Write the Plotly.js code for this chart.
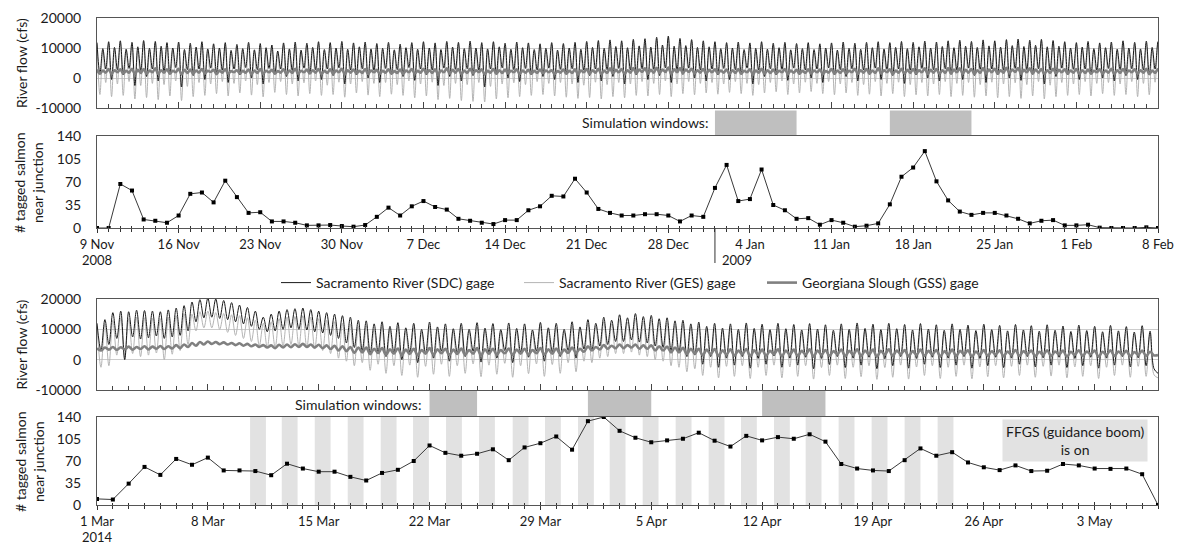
<!DOCTYPE html>
<html><head><meta charset="utf-8">
<script src="https://cdn.plot.ly/plotly-3.0.1.min.js"></script>
<style>html,body{margin:0;padding:0;background:#fff}#chart{width:1182px;height:546px}</style>
</head><body><div id="chart"></div>
<script>
// ================= DATA =================
// River flow, alternating tidal extremes every 6 h (values in hundreds of cfs)
const flowTopStart = '2008-11-09';
const sdcTop = [
118,15,98,30, 121,-5,102,28, 124,10,96,32, 119,-25,104,25, 125,5,99,30, 122,-10,106,22, 118,12,100,35, 120,-30,95,28,
116,8,103,30, 121,-5,97,33, 114,15,100,26, 118,-15,92,30, 112,10,98,35, 119,0,94,28, 115,-20,101,32, 110,12,90,30,
117,5,97,25, 120,-10,93,33, 116,15,102,28, 121,-5,95,30, 118,8,100,34, 122,-20,96,27, 117,10,104,31, 120,0,97,26,
115,-15,99,32, 119,12,94,28, 113,5,101,35, 118,-8,96,30, 121,10,100,27, 117,-25,95,33, 122,5,103,29, 119,-10,98,31,
123,8,100,26, 118,-30,97,30, 121,12,104,34, 116,0,96,28, 120,-12,101,32, 117,10,95,27, 114,5,99,33, 118,-5,93,29,
115,12,100,31, 119,-15,96,26, 122,8,102,30, 125,-10,99,28, 127,5,105,32, 124,-20,101,27, 129,10,107,31, 131,-5,103,29,
136,8,110,34, 140,-15,106,28, 132,12,108,33, 128,0,102,27, 124,-10,104,30, 121,10,98,32, 118,-5,100,28, 120,12,95,33,
117,-20,99,26, 121,5,96,31, 116,10,101,29, 119,-8,94,33, 115,12,98,27, 118,0,95,30, 114,-15,100,34, 117,10,93,28,
120,5,99,31, 116,-10,96,27, 119,12,101,33, 121,-5,97,29, 118,8,102,30, 122,-18,98,26, 119,10,104,32, 123,0,100,28,
120,-10,105,31, 124,12,101,27, 126,-5,106,33, 122,8,102,29, 127,-15,107,30, 124,10,103,26, 128,0,108,32, 130,-8,105,28,
126,12,109,31, 129,-20,104,27, 125,5,106,33, 121,10,100,29, 118,-5,103,30, 122,12,98,26, 117,0,101,32, 120,-10,96,28,
124,8,100,31, 119,-5,97,27, 123,10,102,30, 121,5,99,32];
const gesTop = [
112,-55,92,-15, 115,-62,96,-20, 118,-58,90,-12, 113,-70,98,-25, 119,-65,93,-18, 116,-72,100,-22, 112,-60,94,-10, 114,-75,89,-28,
110,-62,97,-15, 115,-58,91,-20, 108,-52,94,-12, 112,-60,86,-18, 106,-50,92,-10, 113,-57,88,-22, 109,-63,95,-15, 104,-48,84,-12,
111,-55,91,-20, 114,-60,87,-16, 110,-52,96,-10, 115,-58,89,-24, 112,-55,94,-14, 116,-64,90,-20, 111,-50,98,-12, 114,-57,91,-18,
109,-62,93,-15, 113,-54,88,-22, 107,-58,95,-10, 112,-66,90,-20, 115,-60,94,-14, 111,-72,89,-25, 116,-68,97,-18, 113,-75,92,-22,
117,-78,94,-15, 112,-80,91,-28, 115,-70,98,-20, 110,-66,90,-16, 114,-62,95,-22, 111,-58,89,-12, 108,-55,93,-18, 112,-60,87,-15,
109,-64,94,-20, 113,-68,90,-24, 116,-65,96,-14, 119,-70,93,-22, 121,-62,99,-15, 118,-66,95,-20, 123,-58,101,-12, 125,-60,97,-18,
130,-55,104,-10, 134,-62,100,-20, 126,-52,102,-12, 122,-56,96,-18, 118,-50,98,-15, 115,-54,92,-20, 112,-48,94,-12, 114,-52,89,-18,
111,-58,93,-22, 115,-50,90,-15, 110,-46,95,-10, 113,-55,88,-20, 109,-50,92,-14, 112,-45,89,-18, 108,-52,94,-12, 111,-56,87,-20,
114,-50,93,-15, 110,-58,90,-22, 113,-54,95,-12, 115,-60,91,-18, 112,-52,96,-14, 116,-62,92,-22, 113,-56,98,-15, 117,-60,94,-20,
114,-55,99,-12, 118,-62,95,-18, 120,-58,100,-15, 116,-64,96,-22, 121,-60,101,-14, 118,-66,97,-20, 122,-62,102,-16, 124,-68,99,-22,
120,-60,103,-12, 123,-70,98,-24, 119,-62,100,-15, 115,-58,94,-20, 112,-55,97,-12, 116,-60,92,-18, 111,-52,95,-15, 114,-58,90,-20,
118,-55,94,-12, 113,-62,91,-18, 117,-56,96,-14, 115,-60,93,-18];
const gssTop = [
28,14,25,18, 30,13,26,19, 29,15,24,18, 31,12,27,17, 30,14,25,19, 32,13,26,18, 29,15,24,19, 31,12,27,17,
28,14,25,18, 30,15,24,20, 27,13,25,18, 29,14,23,19, 26,15,24,18, 28,13,25,17, 30,14,24,19, 27,15,23,18,
29,13,25,17, 31,14,24,19, 28,15,26,18, 30,13,24,17, 29,14,25,19, 31,12,26,18, 28,15,24,17, 30,13,25,19,
27,14,24,18, 29,15,23,17, 28,13,25,19, 30,14,24,18, 31,15,26,17, 29,12,25,19, 32,14,27,18, 30,13,25,17,
31,15,26,19, 29,12,24,18, 30,14,26,17, 28,15,24,19, 29,13,25,18, 27,14,24,17, 28,15,25,19, 26,13,23,18,
28,14,24,17, 29,12,25,19, 30,14,26,18, 31,13,25,17, 32,15,27,19, 30,13,26,18, 33,15,28,20, 32,14,27,18,
34,16,28,20, 35,14,29,19, 33,16,28,20, 31,15,26,18, 30,14,27,19, 29,15,25,18, 28,13,26,17, 30,14,24,19,
29,12,25,18, 31,14,26,17, 28,15,24,19, 30,13,25,18, 27,14,24,17, 29,15,25,19, 28,13,23,18, 30,14,25,17,
29,15,24,19, 31,13,26,18, 30,14,25,17, 32,15,26,19, 29,13,25,18, 31,14,27,17, 30,15,26,19, 32,13,27,18,
30,14,26,17, 33,15,28,19, 32,14,27,18, 30,13,26,17, 33,15,28,19, 31,14,26,18, 34,16,28,20, 33,14,27,19,
32,15,28,18, 30,13,26,17, 31,15,27,19, 29,14,25,18, 30,13,26,17, 28,15,24,19, 29,14,25,18, 31,13,26,17,
30,15,25,19, 29,14,26,18, 31,13,25,17, 30,15,26,19];

const flowBotStart = '2014-03-01';
const sdcBot = [
120,30,132,50, 155,70,160,0, 158,75,163,68, 162,72,160,78, 158,70,164,75, 170,80,178,95, 190,125,198,138, 203,140,200,136,
195,132,188,125, 180,118,172,110, 160,100,140,92, 150,95,160,100, 165,105,168,100, 170,98,165,92, 160,88,155,80, 150,70,145,55,
140,40,130,30, 128,20,118,25, 125,10,110,22, 122,0,105,25, 120,-10,100,20, 124,5,108,28, 118,-5,102,22, 120,10,100,28,
122,-8,104,25, 119,5,99,30, 121,-10,103,24, 118,8,98,28, 123,-5,105,26, 120,10,100,30, 125,5,108,35, 132,30,120,45,
140,50,130,60, 148,60,138,65, 152,58,142,55, 146,45,135,40, 138,30,128,25, 130,10,118,15, 124,-15,110,10, 120,-25,104,5,
118,-18,100,10, 121,-28,103,4, 117,-15,99,12, 120,-25,102,5, 116,-18,98,8, 119,-30,101,4, 115,-16,97,10, 118,-26,100,5,
121,-18,103,8, 117,-30,99,3, 120,-20,102,10, 116,-28,98,4, 119,-15,101,8, 115,-26,97,5, 118,-18,100,10, 114,-28,96,4,
117,-20,99,8, 113,-26,95,5, 116,-15,98,10, 112,-24,94,6, 115,-18,97,8, 111,-26,93,4, 114,-20,96,8, 110,-28,92,5,
113,-18,95,10, 109,-24,91,6, 112,-20,94,-30, -45];
const gesBot = [
110,-25,118,-20, 130,15,138,5, 135,20,140,10, 138,15,136,22, 135,0,140,18, 145,30,152,50, 150,95,158,105, 160,105,155,100,
152,90,148,80, 145,70,138,60, 130,45,120,40, 125,40,135,45, 140,50,142,45, 145,40,140,35, 135,30,130,20, 125,5,120,-5,
118,-20,110,-10, 112,-35,102,-15, 110,-45,98,-20, 108,-52,95,-18, 106,-58,92,-22, 110,-48,98,-15, 104,-55,94,-20, 106,-45,92,-14,
108,-56,96,-18, 105,-48,91,-12, 107,-58,95,-20, 104,-46,90,-14, 109,-55,97,-16, 106,-45,92,-10, 110,-40,100,-5, 118,-10,110,5,
126,10,118,20, 132,20,125,25, 136,15,128,10, 130,0,122,-5, 122,-20,114,-25, 115,-40,106,-30, 110,-52,100,-25, 106,-60,96,-22,
104,-55,93,-20, 107,-62,96,-25, 103,-52,92,-18, 106,-60,95,-24, 102,-55,91,-20, 105,-64,94,-26, 101,-52,90,-18, 104,-62,93,-25,
107,-56,96,-20, 103,-65,92,-26, 106,-58,95,-18, 102,-64,91,-24, 105,-52,94,-20, 101,-62,90,-25, 104,-55,93,-18, 100,-63,89,-24,
103,-56,92,-20, 99,-60,88,-22, 102,-52,91,-18, 98,-58,87,-22, 101,-54,90,-18, 97,-60,86,-24, 100,-55,89,-20, 96,-62,85,-25,
99,-52,88,-18, 95,-58,84,-22, 98,-55,87,-50, -60];
const gssBot = [
38,30,40,33, 42,32,41,34, 43,33,42,35, 44,34,43,36, 45,35,44,37, 48,38,50,42, 55,46,58,50, 60,52,58,51,
57,50,55,48, 54,46,52,44, 50,42,48,40, 47,38,49,40, 50,41,51,42, 52,42,50,40, 49,38,47,35, 46,30,44,28,
42,22,40,24, 40,18,36,22, 38,16,34,20, 37,15,33,19, 36,14,32,20, 38,16,34,21, 36,15,33,19, 37,16,32,20,
38,14,34,19, 36,16,32,21, 37,15,33,20, 36,17,32,21, 38,16,34,20, 37,18,33,22, 40,22,36,26, 44,30,42,34,
48,36,46,38, 50,38,48,40, 50,36,47,36, 47,30,44,30, 43,24,40,24, 39,18,36,20, 36,14,33,18, 35,12,31,17,
34,13,30,18, 35,11,31,16, 33,13,29,18, 34,11,30,16, 33,12,29,17, 34,10,30,16, 32,12,28,18, 33,11,29,16,
34,12,30,17, 33,10,29,16, 34,12,30,18, 32,11,28,16, 33,12,29,17, 32,10,28,16, 33,12,29,18, 31,10,27,16,
32,12,28,17, 31,11,27,16, 32,12,28,18, 30,11,26,16, 31,12,27,17, 30,10,26,16, 31,12,27,18, 30,10,26,16,
31,12,27,17, 29,11,25,16, 30,12,26,14, 15];

// Tagged salmon near junction, daily counts
const salmonTopStart = '2008-11-09';
const salmonTop = [
0,0,67,57,13,11,8,19,52,54,39,72,47,23,24,10,10,8,4,4,4.5,3,
2,4.5,17,31,19,33,41,32,28,14,11,8,6,12,12,27,33,49,48,75,54,29,23,19,19,21,21,19,10,19,17,
61,96,41,44,89,35,27,14,15,5,12,8,2,3.5,7,36,78,92,117,71,42,25,20,23,23,19,14,7,11,12,4,
4,5,0.5,0,0,0,1,0];
const salmonBotStart = '2014-03-01';
const salmonBot = [
9.7,8.7,34,60.6,47.9,73.3,64,75.4,55,55,54,47.4,65.7,58,53,53,44.8,39,51,56,70,94.7,83,78.4,81.5,88.6,71.3,91.6,98.3,109,88,
133.4,140,118,107,99.8,102.8,105.4,115,102.3,93,110,102.8,108,105.4,112.5,100.8,65.2,58,55,54,71.3,90,78.4,84,67.7,60,55.5,63,54,54.5,
65.2,63,58,57.5,58,49,0];

// Simulation windows
const simTopStart = ['2009-01-01','2009-01-16'];
const simTopEnd   = ['2009-01-08','2009-01-23'];
const simBotStart = ['2014-03-22','2014-04-01','2014-04-12'];
const simBotEnd   = ['2014-03-25','2014-04-05','2014-04-16'];

// FFGS (guidance boom) on periods
const ffgsStart = ['2014-03-10 16:00','2014-03-12 16:00','2014-03-14 18:00','2014-03-16 20:00','2014-03-18 22:00','2014-03-20 23:00',
'2014-03-23 01:00','2014-03-25 03:00','2014-03-27 06:00','2014-03-29 07:00','2014-03-31 09:00','2014-04-02 09:00','2014-04-04 11:00',
'2014-04-06 13:00','2014-04-08 15:00','2014-04-10 16:00','2014-04-12 18:00','2014-04-14 18:00','2014-04-16 20:00','2014-04-18 22:00',
'2014-04-21 00:00','2014-04-23 02:00'];
const ffgsEnd = ['2014-03-11 16:00','2014-03-13 16:00','2014-03-15 18:00','2014-03-17 20:00','2014-03-19 22:00','2014-03-21 23:00',
'2014-03-24 01:00','2014-03-26 03:00','2014-03-28 06:00','2014-03-30 07:00','2014-04-01 09:00','2014-04-03 09:00','2014-04-05 11:00',
'2014-04-07 13:00','2014-04-09 15:00','2014-04-11 16:00','2014-04-13 18:00','2014-04-15 18:00','2014-04-17 20:00','2014-04-19 22:00',
'2014-04-22 00:00','2014-04-24 02:00'];

// Axis ranges, tick labels and year labels
const rangeTop = ['2008-11-09','2009-02-08'];
const rangeBot = ['2014-03-01','2014-05-07'];
const topTickVals = ['2008-11-09','2008-11-16','2008-11-23','2008-11-30','2008-12-07','2008-12-14','2008-12-21','2008-12-28','2009-01-04','2009-01-11','2009-01-18','2009-01-25','2009-02-01','2009-02-08'];
const topTickText = ['9 Nov','16 Nov','23 Nov','30 Nov','7 Dec','14 Dec','21 Dec','28 Dec','4 Jan','11 Jan','18 Jan','25 Jan','1 Feb','8 Feb'];
const botTickVals = ['2014-03-01','2014-03-08','2014-03-15','2014-03-22','2014-03-29','2014-04-05','2014-04-12','2014-04-19','2014-04-26','2014-05-03'];
const botTickText = ['1 Mar','8 Mar','15 Mar','22 Mar','29 Mar','5 Apr','12 Apr','19 Apr','26 Apr','3 May'];
const yearLabelsTop = [{at: '2008-11-09', text: '2008'}, {at: '2009-01-04', text: '2009'}];
const yearLabelsBot = [{at: '2014-03-01', text: '2014'}];
const yearBoundary = '2009-01-01';
const flowTicks = [-10000,0,10000,20000];
const salmonTicks = [0,35,70,105,140];
const seriesNames = ['Sacramento River (SDC) gage','Sacramento River (GES) gage','Georgiana Slough (GSS) gage'];

// ================= BUILD =================
const H6 = 6*3600*1000, D1 = 24*3600*1000;
function grid(start, n, step){
  const t0 = Date.parse(start + 'T00:00:00Z');
  return Array.from({length:n}, (_, i) => new Date(t0 + i*step).toISOString().slice(0,16).replace('T',' '));
}
const toCfs = a => a.map(v => v*100);

const W = 1182, Hh = 546;
const px = v => v / W, py = v => 1 - v / Hh;
const FONT = 'Lato, "Open Sans", sans-serif';
const TXT = '#1a1a1a';
const LINE = '#555555';

const colSDC = '#1a1a1a', colGES = '#b4b4b4', colGSS = '#808080';

function flowTraces(start, sdc, ges, gss, xa, ya, legend){
  const mk = (arr, name, color, width, rank, show) => ({
    x: grid(start, arr.length, H6), y: toCfs(arr), xaxis: xa, yaxis: ya, type: 'scatter', mode: 'lines',
    name: name, line: {color: color, width: width, shape: 'spline', smoothing: 1},
    showlegend: show, legendrank: rank, hoverinfo: 'skip'
  });
  return [
    mk(ges, seriesNames[1], colGES, 1, 2, legend),
    mk(sdc, seriesNames[0], colSDC, 1, 1, legend),
    mk(gss, seriesNames[2], colGSS, 2.6, 3, legend)
  ];
}
function salmonTrace(start, arr, xa, ya){
  return {x: grid(start, arr.length, D1), y: arr, xaxis: xa, yaxis: ya, type: 'scatter', mode: 'lines+markers',
    line: {color: '#3a3a3a', width: 1}, marker: {symbol: 'square', size: 4, color: '#000'}, showlegend: false, hoverinfo: 'skip'};
}

const traces = [
  ...flowTraces(flowTopStart, sdcTop, gesTop, gssTop, 'x', 'y', true),
  salmonTrace(salmonTopStart, salmonTop, 'x2', 'y2'),
  ...flowTraces(flowBotStart, sdcBot, gesBot, gssBot, 'x3', 'y3', false),
  salmonTrace(salmonBotStart, salmonBot, 'x4', 'y4'),
  {x: [], y: [], xaxis: 'x5', yaxis: 'y2', showlegend: false, hoverinfo: 'skip'},
  {x: [], y: [], xaxis: 'x6', yaxis: 'y4', showlegend: false, hoverinfo: 'skip'}
];

const xDom = [px(97), px(1158)];
const dom = {
  rTop: [py(108), py(18)], sTop: [py(228), py(136)],
  rBot: [py(390), py(299)], sBot: [py(505), py(417)]
};
const TICKFONT = {family: FONT, size: 14, color: TXT};
const XTICKFONT = {family: FONT, size: 13, color: TXT};

function flowX(range, tickvals, anchor, t0){
  return {domain: xDom, anchor: anchor, type: 'date', range: range, autorange: false,
    tickmode: 'array', tickvals: tickvals, showticklabels: false, ticks: 'inside', ticklen: 6, tickcolor: '#444', tickwidth: 1,
    minor: {tickmode: 'linear', tick0: t0, dtick: D1, ticks: 'inside', ticklen: 4, tickcolor: '#444', tickwidth: 1, showgrid: false},
    showgrid: false, zeroline: false, showline: true, mirror: true, linecolor: LINE, linewidth: 1};
}
function salmonX(range, tickvals, ticktext, anchor, t0){
  return {domain: xDom, anchor: anchor, type: 'date', range: range, autorange: false,
    tickmode: 'array', tickvals: tickvals, ticktext: ticktext, ticks: 'outside', ticklen: 4, tickcolor: '#333', tickwidth: 1,
    minor: {tickmode: 'linear', tick0: t0, dtick: D1, ticks: 'outside', ticklen: 3, tickcolor: '#333', tickwidth: 1, showgrid: false},
    tickfont: XTICKFONT,
    showgrid: false, zeroline: false, showline: true, mirror: true, linecolor: LINE, linewidth: 1};
}
function overlayX(range, tickvals, over, anchor, t0){
  return {domain: xDom, overlaying: over, anchor: anchor, type: 'date', range: range, autorange: false,
    tickmode: 'array', tickvals: tickvals, showticklabels: false, ticks: 'inside', ticklen: 3, tickcolor: '#333', tickwidth: 1,
    minor: {tickmode: 'linear', tick0: t0, dtick: D1, ticks: 'inside', ticklen: 2, tickcolor: '#333', tickwidth: 1, showgrid: false},
    showgrid: false, zeroline: false, showline: false};
}
function flowY(d, anchor){
  return {domain: d, anchor: anchor, range: [-10000, 20000], autorange: false, tickmode: 'array', tickvals: flowTicks,
    ticktext: flowTicks.map(String), tickfont: TICKFONT, ticks: '', ticklabelstandoff: 12,
    showgrid: true, gridcolor: '#cccccc', gridwidth: 1, zeroline: false, showline: true, mirror: true, linecolor: LINE, linewidth: 1};
}
function salmonY(d, anchor){
  return {domain: d, anchor: anchor, range: [0, 140], autorange: false, tickmode: 'array', tickvals: salmonTicks,
    tickfont: TICKFONT, ticks: '', ticklabelstandoff: 12,
    showgrid: false, zeroline: false, showline: true, mirror: true, linecolor: LINE, linewidth: 1};
}

const shapes = [];
simTopStart.forEach((s, i) => shapes.push({type: 'rect', xref: 'x2', yref: 'paper', x0: s, x1: simTopEnd[i],
  y0: py(135), y1: py(110.5), fillcolor: '#bfbfbf', line: {width: 0}}));
simBotStart.forEach((s, i) => shapes.push({type: 'rect', xref: 'x4', yref: 'paper', x0: s, x1: simBotEnd[i],
  y0: py(416), y1: py(391), fillcolor: '#bfbfbf', line: {width: 0}}));
ffgsStart.forEach((s, i) => shapes.push({type: 'rect', xref: 'x4', yref: 'y4 domain', x0: s, x1: ffgsEnd[i],
  y0: 0, y1: 1, fillcolor: '#e2e2e2', line: {width: 0}, layer: 'below'}));
shapes.push({type: 'line', xref: 'x2', yref: 'paper', x0: yearBoundary, x1: yearBoundary, y0: py(263), y1: py(228),
  line: {color: '#333', width: 1}});

const ann = (o) => Object.assign({showarrow: false, font: {family: FONT, size: 14, color: TXT}}, o);
const yearFont = {family: FONT, size: 13, color: TXT};
const annotations = [
  ann({text: 'River flow (cfs)', xref: 'paper', yref: 'paper', x: px(21), y: py(63), textangle: -90, xanchor: 'center', yanchor: 'middle'}),
  ann({text: 'River flow (cfs)', xref: 'paper', yref: 'paper', x: px(21), y: py(344.5), textangle: -90, xanchor: 'center', yanchor: 'middle'}),
  ann({text: '# tagged salmon<br>near junction', xref: 'paper', yref: 'paper', x: px(29), y: py(182), textangle: -90, xanchor: 'center', yanchor: 'middle'}),
  ann({text: '# tagged salmon<br>near junction', xref: 'paper', yref: 'paper', x: px(29), y: py(461), textangle: -90, xanchor: 'center', yanchor: 'middle'}),
  ann({text: 'Simulation windows:', xref: 'x2', yref: 'paper', x: simTopStart[0], xshift: -5, y: py(123), xanchor: 'right', yanchor: 'middle'}),
  ann({text: 'Simulation windows:', xref: 'x4', yref: 'paper', x: simBotStart[0], xshift: -7, y: py(404), xanchor: 'right', yanchor: 'middle'}),
  ann({text: 'FFGS (guidance boom)<br>is on', xref: 'paper', yref: 'paper', x: px(1075), y: py(440), xanchor: 'center', yanchor: 'middle',
    bgcolor: '#e2e2e2', borderpad: 3}),
  ...yearLabelsTop.map((d, i) => ann({text: d.text, font: yearFont, borderpad: 0, xref: 'x2', yref: 'paper', x: d.at, xshift: i === 0 ? 0 : -13,
    y: py(251), xanchor: 'center', yanchor: 'top'})),
  ...yearLabelsBot.map(d => ann({text: d.text, font: yearFont, borderpad: 0, xref: 'x4', yref: 'paper', x: d.at, y: 0, xanchor: 'center', yanchor: 'bottom'}))
];

const layout = {
  width: W, height: Hh, margin: {l: 0, r: 0, t: 0, b: 0}, paper_bgcolor: '#fff', plot_bgcolor: 'rgba(0,0,0,0)',
  font: {family: FONT, size: 14, color: TXT}, hovermode: false,
  showlegend: true,
  legend: {orientation: 'h', x: px(276), xanchor: 'left', y: py(283), yanchor: 'middle', bgcolor: 'rgba(0,0,0,0)',
    font: {family: FONT, size: 14, color: TXT}, itemwidth: 30, traceorder: 'normal', entrywidth: 198},
  xaxis: flowX(rangeTop, topTickVals, 'y', salmonTopStart),
  yaxis: flowY(dom.rTop, 'x'),
  xaxis2: salmonX(rangeTop, topTickVals, topTickText, 'y2', salmonTopStart),
  yaxis2: salmonY(dom.sTop, 'x2'),
  xaxis3: flowX(rangeBot, botTickVals, 'y3', salmonBotStart),
  yaxis3: flowY(dom.rBot, 'x3'),
  xaxis4: salmonX(rangeBot, botTickVals, botTickText, 'y4', salmonBotStart),
  yaxis4: salmonY(dom.sBot, 'x4'),
  xaxis5: overlayX(rangeTop, topTickVals, 'x2', 'y2', salmonTopStart),
  xaxis6: overlayX(rangeBot, botTickVals, 'x4', 'y4', salmonBotStart),
  shapes: shapes, annotations: annotations
};

Plotly.newPlot('chart', traces, layout, {staticPlot: true, displayModeBar: false});
</script>
</body></html>
